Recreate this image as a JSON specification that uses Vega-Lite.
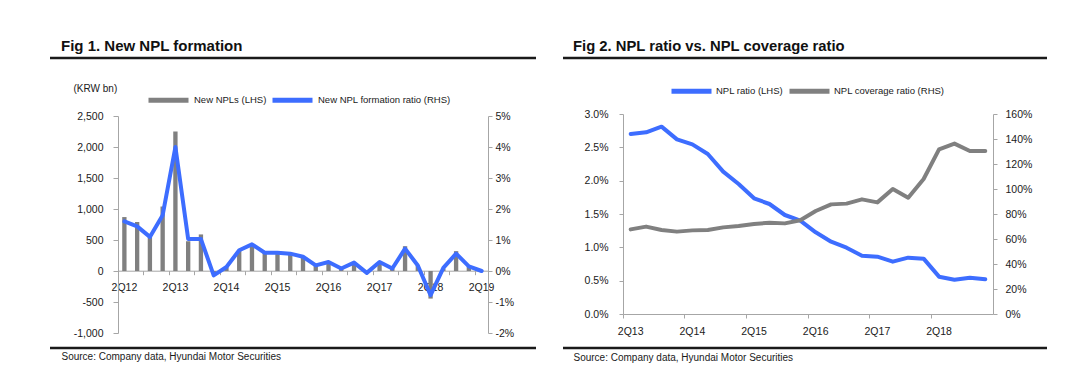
{
  "$schema": "https://vega.github.io/schema/vega-lite/v6.json",
  "padding": {"left": 48, "top": 37, "right": 5, "bottom": 5},
  "spacing": 23,
  "resolve": {"scale": {"color": "independent"}, "legend": {"color": "independent"}},
  "config": {
    "font": "Liberation Sans, Arial, sans-serif",
    "view": {"stroke": null},
    "axis": {"labelFontSize": 10.5, "labelColor": "#1a1a1a", "domainColor": "#a6a6a6", "tickColor": "#a6a6a6", "grid": false, "tickSize": 4, "titleFontWeight": "normal", "titleColor": "#1a1a1a", "titleFontSize": 10},
    "legend": {"labelFontSize": 9.5, "labelColor": "#1a1a1a"},
    "title": {"color": "#111111"}
  },
  "hconcat": [
    {
      "width": 486, "height": 290,
      "view": {"stroke": "#1a1a1a", "strokeWidth": 2.5, "strokeDash": [486, 290]},
      "title": {"text": "Fig 1. New NPL formation", "anchor": "start", "frame": "group", "fontSize": 15, "fontWeight": "bold", "dx": 11, "offset": 4},
      "data": {"values": [
        {"q":"2Q12","npl":870,"ratio":0.0160},
        {"q":"3Q12","npl":790,"ratio":0.0144},
        {"q":"4Q12","npl":550,"ratio":0.0110},
        {"q":"1Q13","npl":1040,"ratio":0.0180},
        {"q":"2Q13","npl":2250,"ratio":0.0400},
        {"q":"3Q13","npl":480,"ratio":0.0103},
        {"q":"4Q13","npl":590,"ratio":0.0103},
        {"q":"1Q14","npl":-40,"ratio":-0.0014},
        {"q":"2Q14","npl":60,"ratio":0.0013},
        {"q":"3Q14","npl":330,"ratio":0.0067},
        {"q":"4Q14","npl":430,"ratio":0.0086},
        {"q":"1Q15","npl":300,"ratio":0.0059},
        {"q":"2Q15","npl":300,"ratio":0.0059},
        {"q":"3Q15","npl":280,"ratio":0.0056},
        {"q":"4Q15","npl":220,"ratio":0.0046},
        {"q":"1Q16","npl":90,"ratio":0.0018},
        {"q":"2Q16","npl":145,"ratio":0.0029},
        {"q":"3Q16","npl":40,"ratio":0.0008},
        {"q":"4Q16","npl":140,"ratio":0.0027},
        {"q":"1Q17","npl":-20,"ratio":-0.0006},
        {"q":"2Q17","npl":145,"ratio":0.0029},
        {"q":"3Q17","npl":40,"ratio":0.0008},
        {"q":"4Q17","npl":400,"ratio":0.0072},
        {"q":"1Q18","npl":90,"ratio":0.0018},
        {"q":"2Q18","npl":-445,"ratio":-0.0078},
        {"q":"3Q18","npl":40,"ratio":0.0010},
        {"q":"4Q18","npl":320,"ratio":0.0056},
        {"q":"1Q19","npl":75,"ratio":0.0015},
        {"q":"2Q19","npl":5,"ratio":0.0000}
      ]},
      "layer": [
        {
          "mark": {"type": "bar", "width": {"band": 0.34}},
          "encoding": {
            "x": {"field": "q", "type": "ordinal", "sort": null,
              "scale": {"type": "band", "paddingInner": 0, "paddingOuter": 0, "range": [68, 438]},
              "axis": {"orient": "bottom", "values": ["2Q12","2Q13","2Q14","2Q15","2Q16","2Q17","2Q18","2Q19"], "labelAngle": 0, "ticks": false, "offset": -77.3, "labelPadding": 12,
                "title": "Source: Company data, Hyundai Motor Securities", "titleX": 11, "titleY": 86, "titleAlign": "left", "titleBaseline": "middle", "titleAngle": 0}},
            "y": {"field": "npl", "type": "quantitative",
              "scale": {"domain": [-1000, 2500], "nice": false, "zero": false, "range": [275, 58]},
              "axis": {"values": [-1000,-500,0,500,1000,1500,2000,2500], "format": ",.0f", "labelExpr": "replace(datum.label, '−', '-')", "offset": -68,
                "title": "(KRW bn)", "titleAngle": 0, "titleX": -45, "titleY": 30, "titleAlign": "left", "titleBaseline": "middle", "labelPadding": 10, "tickSize": 5}},
            "color": {"datum": "New NPLs (LHS)",
              "scale": {"domain": ["New NPLs (LHS)", "New NPL formation ratio (RHS)"], "range": ["#808080", "#3D6DFF"]},
              "legend": {"orient": "none", "legendX": 96, "legendY": 19.5, "direction": "horizontal", "title": null, "symbolType": "stroke", "symbolSize": 1600, "symbolStrokeWidth": 5, "labelOffset": 3, "columnPadding": -5,
                "encode": {"symbols": {"update": {"stroke": {"scale": "color", "field": "value"}, "fill": {"value": "transparent"}, "strokeWidth": {"value": 5}, "opacity": {"value": 1}}}}}}
          }
        },
        {
          "mark": {"type": "line", "strokeWidth": 4, "strokeJoin": "round", "strokeCap": "round"},
          "encoding": {
            "x": {"field": "q", "type": "ordinal", "sort": null,
              "axis": {"orient": "bottom", "values": ["4Q12","2Q13","4Q13","2Q14","4Q14","2Q15","4Q15","2Q16","4Q16","2Q17","4Q17","2Q18","4Q18","2Q19"], "labels": false, "domain": false, "ticks": true, "tickSize": 4, "bandPosition": 0, "offset": -77.3, "title": null}},
            "y": {"field": "ratio", "type": "quantitative",
              "scale": {"domain": [-0.02, 0.05], "nice": false, "zero": false, "range": [275, 58]},
              "axis": {"orient": "right", "offset": -48, "values": [-0.02,-0.01,0,0.01,0.02,0.03,0.04,0.05], "format": ".0%", "labelExpr": "replace(datum.label, '−', '-')", "title": null, "labelPadding": 3}},
            "color": {"datum": "New NPL formation ratio (RHS)"}
          }
        }
      ],
      "resolve": {"scale": {"y": "independent"}, "axis": {"x": "independent"}}
    },
    {
      "width": 484, "height": 290,
      "view": {"stroke": "#1a1a1a", "strokeWidth": 2.5, "strokeDash": [484, 290]},
      "title": {"text": "Fig 2. NPL ratio vs. NPL coverage ratio", "anchor": "start", "frame": "group", "fontSize": 14.8, "fontWeight": "bold", "dx": 10, "offset": 4},
      "data": {"values": [
        {"q":"2Q13","npl":0.0270,"cov":0.677},
        {"q":"3Q13","npl":0.02725,"cov":0.699},
        {"q":"4Q13","npl":0.0281,"cov":0.672},
        {"q":"1Q14","npl":0.0262,"cov":0.659},
        {"q":"2Q14","npl":0.02545,"cov":0.669},
        {"q":"3Q14","npl":0.0240,"cov":0.672},
        {"q":"4Q14","npl":0.02135,"cov":0.693},
        {"q":"1Q15","npl":0.0195,"cov":0.704},
        {"q":"2Q15","npl":0.01735,"cov":0.720},
        {"q":"3Q15","npl":0.0165,"cov":0.730},
        {"q":"4Q15","npl":0.01485,"cov":0.725},
        {"q":"1Q16","npl":0.0140,"cov":0.750},
        {"q":"2Q16","npl":0.01225,"cov":0.824},
        {"q":"3Q16","npl":0.01085,"cov":0.877},
        {"q":"4Q16","npl":0.00995,"cov":0.883},
        {"q":"1Q17","npl":0.00875,"cov":0.917},
        {"q":"2Q17","npl":0.0086,"cov":0.893},
        {"q":"3Q17","npl":0.00785,"cov":1.000},
        {"q":"4Q17","npl":0.00845,"cov":0.930},
        {"q":"1Q18","npl":0.0083,"cov":1.080},
        {"q":"2Q18","npl":0.0056,"cov":1.317},
        {"q":"3Q18","npl":0.00515,"cov":1.363},
        {"q":"4Q18","npl":0.00545,"cov":1.304},
        {"q":"1Q19","npl":0.0052,"cov":1.304}
      ]},
      "layer": [
        {
          "mark": {"type": "line", "strokeWidth": 4, "strokeJoin": "round", "strokeCap": "round"},
          "encoding": {
            "x": {"field": "q", "type": "ordinal", "sort": null,
              "scale": {"type": "band", "paddingInner": 0, "paddingOuter": 0, "range": [60, 430]},
              "axis": {"orient": "bottom", "values": ["2Q13","2Q14","2Q15","2Q16","2Q17","2Q18"], "ticks": false, "labelAngle": 0, "offset": -34, "labelPadding": 12,
                "title": "Source: Company data, Hyundai Motor Securities", "titleX": 10, "titleY": 43, "titleAlign": "left", "titleBaseline": "middle", "titleAngle": 0}},
            "y": {"field": "npl", "type": "quantitative",
              "scale": {"domain": [0, 0.03], "nice": false, "range": [256, 56]},
              "axis": {"offset": -60, "values": [0,0.005,0.01,0.015,0.02,0.025,0.03], "format": ".1%", "title": null, "labelPadding": 11}},
            "color": {"datum": "NPL ratio (LHS)",
              "scale": {"domain": ["NPL ratio (LHS)", "NPL coverage ratio (RHS)"], "range": ["#3D6DFF", "#808080"]},
              "legend": {"orient": "none", "legendX": 106, "legendY": 10.5, "direction": "horizontal", "title": null, "symbolType": "stroke", "symbolSize": 1600, "symbolStrokeWidth": 5, "labelOffset": 2, "columnPadding": -5,
                "encode": {"symbols": {"update": {"stroke": {"scale": "color", "field": "value"}, "fill": {"value": "transparent"}, "strokeWidth": {"value": 5}, "opacity": {"value": 1}}}}}}
          }
        },
        {
          "mark": {"type": "line", "strokeWidth": 4, "strokeJoin": "round", "strokeCap": "round"},
          "encoding": {
            "x": {"field": "q", "type": "ordinal", "sort": null,
              "axis": {"orient": "bottom", "values": ["2Q13","2Q14","2Q15","2Q16","2Q17","2Q18"], "labels": false, "domain": false, "ticks": true, "tickSize": 4, "bandPosition": 0, "offset": -34, "title": null}},
            "y": {"field": "cov", "type": "quantitative",
              "scale": {"domain": [0, 1.6], "nice": false, "range": [256, 56]},
              "axis": {"orient": "right", "offset": -54, "values": [0,0.2,0.4,0.6,0.8,1.0,1.2,1.4,1.6], "format": ".0%", "title": null, "labelPadding": 8}},
            "color": {"datum": "NPL coverage ratio (RHS)"}
          }
        }
      ],
      "resolve": {"scale": {"y": "independent"}, "axis": {"x": "independent"}}
    }
  ]
}
